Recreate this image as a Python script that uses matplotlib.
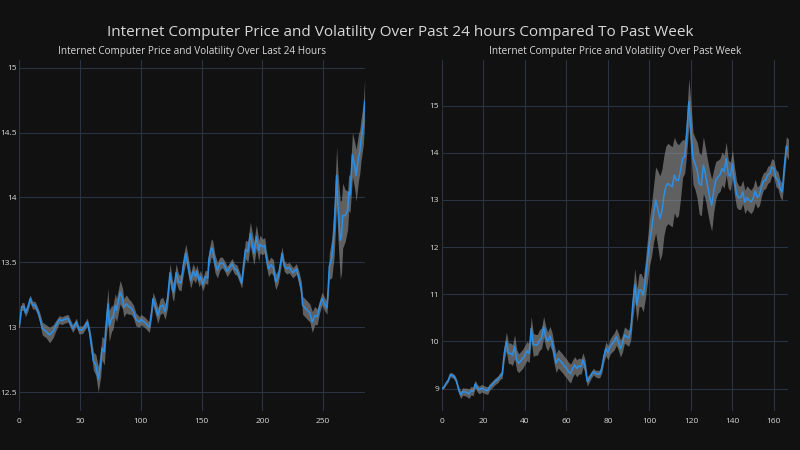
import matplotlib.pyplot as plt
import matplotlib.ticker as mticker
import numpy as np

# --- last 24 hours (5 minute steps) ---
h24_idx = [0, 2, 4, 5, 7, 9, 11, 13, 15, 17, 19, 22, 25, 28, 30, 33, 35, 37, 40, 42,
           44, 47, 49, 52, 56, 58, 59, 61, 63, 65, 67, 68, 70, 71, 73, 74, 76, 77, 79, 80,
           83, 85, 86, 88, 90, 92, 94, 96, 99, 100, 103, 105, 107, 109, 110, 112, 114, 116, 118, 120,
           122, 124, 126, 127, 129, 131, 133, 135, 137, 139, 141, 143, 145, 146, 148, 149, 151, 153, 155, 156,
           158, 159, 161, 163, 165, 167, 169, 171, 173, 175, 177, 179, 181, 183, 184, 186, 188, 190, 191, 193,
           195, 197, 198, 200, 202, 203, 205, 207, 209, 210, 211, 213, 215, 216, 218, 220, 222, 225, 228, 230,
           232, 233, 235, 237, 239, 241, 243, 245, 247, 249, 251, 253, 254, 255, 257, 259, 261, 262, 264, 265,
           266, 268, 270, 271, 272, 274, 276, 277, 279, 280, 281, 283, 284]
h24_price = [13.00, 13.16, 13.16, 13.11, 13.15, 13.22, 13.17, 13.17, 13.13, 13.07, 12.99, 12.97, 12.94, 12.97, 13.01, 13.06, 13.05, 13.06, 13.07, 13.03,
             12.99, 13.04, 12.98, 12.98, 13.04, 12.95, 12.88, 12.74, 12.71, 12.60, 12.72, 12.84, 12.81, 12.97, 13.18, 13.01, 13.07, 13.07, 13.17, 13.13,
             13.27, 13.22, 13.15, 13.18, 13.16, 13.15, 13.12, 13.06, 13.04, 13.06, 13.04, 13.02, 13.00, 13.13, 13.22, 13.16, 13.09, 13.16, 13.17, 13.12,
             13.22, 13.42, 13.29, 13.27, 13.42, 13.35, 13.34, 13.48, 13.57, 13.47, 13.36, 13.43, 13.39, 13.43, 13.36, 13.39, 13.33, 13.39, 13.38, 13.53,
             13.61, 13.60, 13.49, 13.44, 13.49, 13.50, 13.47, 13.43, 13.46, 13.49, 13.45, 13.44, 13.39, 13.34, 13.44, 13.60, 13.58, 13.72, 13.67, 13.57,
             13.70, 13.59, 13.64, 13.62, 13.63, 13.54, 13.45, 13.48, 13.46, 13.39, 13.35, 13.39, 13.50, 13.57, 13.47, 13.45, 13.46, 13.42, 13.45, 13.38,
             13.29, 13.17, 13.15, 13.13, 13.11, 13.04, 13.09, 13.08, 13.16, 13.22, 13.18, 13.15, 13.29, 13.47, 13.53, 13.75, 14.17, 13.95, 13.67, 13.70,
             13.86, 13.86, 13.90, 14.04, 14.02, 14.33, 14.24, 14.17, 14.31, 14.35, 14.44, 14.57, 14.74]
h24_vol = [0.01, 0.03, 0.03, 0.03, 0.03, 0.03, 0.03, 0.03, 0.03, 0.04, 0.05, 0.05, 0.06, 0.05, 0.04, 0.03, 0.03, 0.03, 0.03, 0.03,
           0.03, 0.03, 0.03, 0.03, 0.03, 0.04, 0.06, 0.07, 0.08, 0.10, 0.10, 0.09, 0.10, 0.10, 0.12, 0.12, 0.10, 0.09, 0.09, 0.09,
           0.09, 0.08, 0.07, 0.07, 0.06, 0.05, 0.05, 0.05, 0.04, 0.04, 0.04, 0.04, 0.04, 0.05, 0.05, 0.06, 0.06, 0.06, 0.06, 0.06,
           0.07, 0.07, 0.07, 0.07, 0.07, 0.06, 0.06, 0.07, 0.07, 0.07, 0.06, 0.06, 0.05, 0.05, 0.05, 0.05, 0.05, 0.05, 0.05, 0.06,
           0.07, 0.07, 0.07, 0.06, 0.05, 0.04, 0.04, 0.04, 0.04, 0.04, 0.04, 0.04, 0.04, 0.04, 0.05, 0.07, 0.08, 0.09, 0.09, 0.09,
           0.09, 0.08, 0.07, 0.06, 0.06, 0.06, 0.06, 0.06, 0.06, 0.06, 0.06, 0.05, 0.05, 0.05, 0.04, 0.04, 0.04, 0.04, 0.04, 0.05,
           0.06, 0.07, 0.07, 0.07, 0.07, 0.08, 0.07, 0.06, 0.05, 0.05, 0.05, 0.05, 0.07, 0.10, 0.15, 0.20, 0.22, 0.25, 0.30, 0.28,
           0.25, 0.20, 0.15, 0.14, 0.14, 0.17, 0.18, 0.20, 0.18, 0.17, 0.16, 0.16, 0.17]

# --- past week (hourly) ---
wk_idx = list(range(168))
wk_price = [9.00, 9.04, 9.12, 9.18, 9.30, 9.28, 9.25, 9.15, 8.98, 8.87, 8.94, 8.93, 8.92, 8.89, 8.96, 8.94, 9.10, 9.01, 8.97, 9.01,
            8.99, 8.97, 8.96, 9.04, 9.08, 9.13, 9.17, 9.20, 9.27, 9.30, 9.75, 10.00, 9.75, 9.75, 9.71, 9.89, 9.61, 9.54, 9.59, 9.64,
            9.72, 9.80, 9.75, 10.28, 9.93, 9.93, 9.93, 10.03, 10.07, 10.31, 10.10, 10.00, 10.12, 10.00, 9.75, 9.54, 9.64, 9.59, 9.54, 9.48,
            9.43, 9.36, 9.32, 9.43, 9.50, 9.43, 9.48, 9.47, 9.61, 9.47, 9.15, 9.22, 9.30, 9.36, 9.32, 9.31, 9.31, 9.43, 9.68, 9.85,
            9.76, 9.89, 9.95, 10.00, 10.10, 10.00, 9.85, 9.96, 10.14, 10.10, 10.07, 10.24, 10.81, 11.20, 10.77, 11.09, 11.09, 10.98, 11.30, 11.70,
            12.10, 12.36, 12.71, 13.00, 12.82, 12.61, 12.75, 13.10, 13.30, 13.35, 13.31, 13.28, 13.53, 13.42, 13.42, 13.63, 13.88, 13.92, 14.40, 15.08,
            14.50, 13.88, 13.77, 13.63, 13.35, 13.31, 13.74, 13.55, 13.30, 13.07, 12.89, 13.20, 13.42, 13.49, 13.53, 13.67, 13.60, 13.88, 13.55, 13.50,
            13.77, 13.40, 13.12, 13.05, 13.05, 13.17, 12.96, 13.05, 13.00, 12.96, 13.03, 13.19, 13.05, 13.10, 13.28, 13.40, 13.42, 13.53, 13.56, 13.70,
            13.66, 13.46, 13.42, 13.24, 13.17, 13.70, 14.14, 14.07]
wk_vol = [0.02, 0.03, 0.04, 0.04, 0.05, 0.05, 0.05, 0.06, 0.07, 0.08, 0.08, 0.08, 0.09, 0.10, 0.09, 0.09, 0.08, 0.08, 0.08, 0.08,
          0.08, 0.08, 0.08, 0.07, 0.07, 0.07, 0.07, 0.07, 0.07, 0.08, 0.15, 0.20, 0.22, 0.22, 0.22, 0.25, 0.22, 0.20, 0.20, 0.20,
          0.20, 0.20, 0.20, 0.25, 0.25, 0.22, 0.22, 0.22, 0.22, 0.22, 0.22, 0.20, 0.20, 0.20, 0.20, 0.20, 0.20, 0.20, 0.20, 0.20,
          0.20, 0.20, 0.20, 0.18, 0.18, 0.18, 0.17, 0.16, 0.15, 0.14, 0.10, 0.08, 0.07, 0.07, 0.07, 0.08, 0.08, 0.10, 0.12, 0.15,
          0.15, 0.16, 0.17, 0.18, 0.18, 0.18, 0.18, 0.18, 0.17, 0.17, 0.17, 0.20, 0.30, 0.35, 0.35, 0.35, 0.35, 0.35, 0.40, 0.45,
          0.50, 0.55, 0.60, 0.70, 0.80, 0.90, 0.90, 0.85, 0.85, 0.85, 0.85, 0.85, 0.80, 0.80, 0.75, 0.60, 0.40, 0.35, 0.40, 0.50,
          0.55, 0.55, 0.55, 0.60, 0.65, 0.65, 0.60, 0.55, 0.55, 0.55, 0.55, 0.45, 0.40, 0.35, 0.35, 0.35, 0.35, 0.35, 0.30, 0.30,
          0.30, 0.30, 0.28, 0.25, 0.25, 0.25, 0.25, 0.25, 0.25, 0.25, 0.25, 0.25, 0.22, 0.22, 0.20, 0.18, 0.18, 0.18, 0.18, 0.18,
          0.18, 0.18, 0.18, 0.18, 0.18, 0.20, 0.20, 0.22]

bg = '#111111'
grid_c = '#283442'
line_c = '#2b8fe8'
band_c = '#8c8c8c'
text_c = '#d8d8d8'

plt.rcParams['font.family'] = ['Open Sans', 'DejaVu Sans']

fig = plt.figure(figsize=(8, 4.5), dpi=100, facecolor=bg)
ax1 = fig.add_axes([0.024, 0.087, 0.4325, 0.78])
ax2 = fig.add_axes([0.5525, 0.087, 0.4325, 0.78])


def draw(ax, x, price, vol, title, xlim, ylim, xstep, ystep):
    x = np.array(x)
    price = np.array(price)
    vol = np.array(vol)
    ax.set_facecolor(bg)
    ax.fill_between(x, price - vol, price + vol, color=band_c, alpha=0.65, lw=0)
    ax.plot(x, price, color=line_c, lw=1.1)
    ax.set_xlim(*xlim)
    ax.set_ylim(*ylim)
    ax.xaxis.set_major_locator(mticker.MultipleLocator(xstep))
    ax.yaxis.set_major_locator(mticker.MultipleLocator(ystep))
    ax.yaxis.set_major_formatter(mticker.FormatStrFormatter('%g'))
    ax.grid(True, color=grid_c, lw=0.8)
    ax.set_axisbelow(True)
    for s in ax.spines.values():
        s.set_visible(False)
    ax.tick_params(length=0, labelsize=6, colors=text_c)
    ax.tick_params(axis='y', pad=2)
    ax.tick_params(axis='x', pad=5)
    ax.set_title(title, fontsize=7.2, color=text_c, pad=4)


draw(ax1, h24_idx, h24_price, h24_vol,
     'Internet Computer Price and Volatility Over Last 24 Hours',
     (0, 284.5), (12.356, 15.06), 50, 0.5)
draw(ax2, wk_idx, wk_price, wk_vol,
     'Internet Computer Price and Volatility Over Past Week',
     (0, 166.8), (8.53, 15.97), 20, 1)

fig.suptitle('Internet Computer Price and Volatility Over Past 24 hours Compared To Past Week',
             fontsize=11, color=text_c, y=0.945)

fig.savefig('out.png', dpi=100, facecolor=bg)
